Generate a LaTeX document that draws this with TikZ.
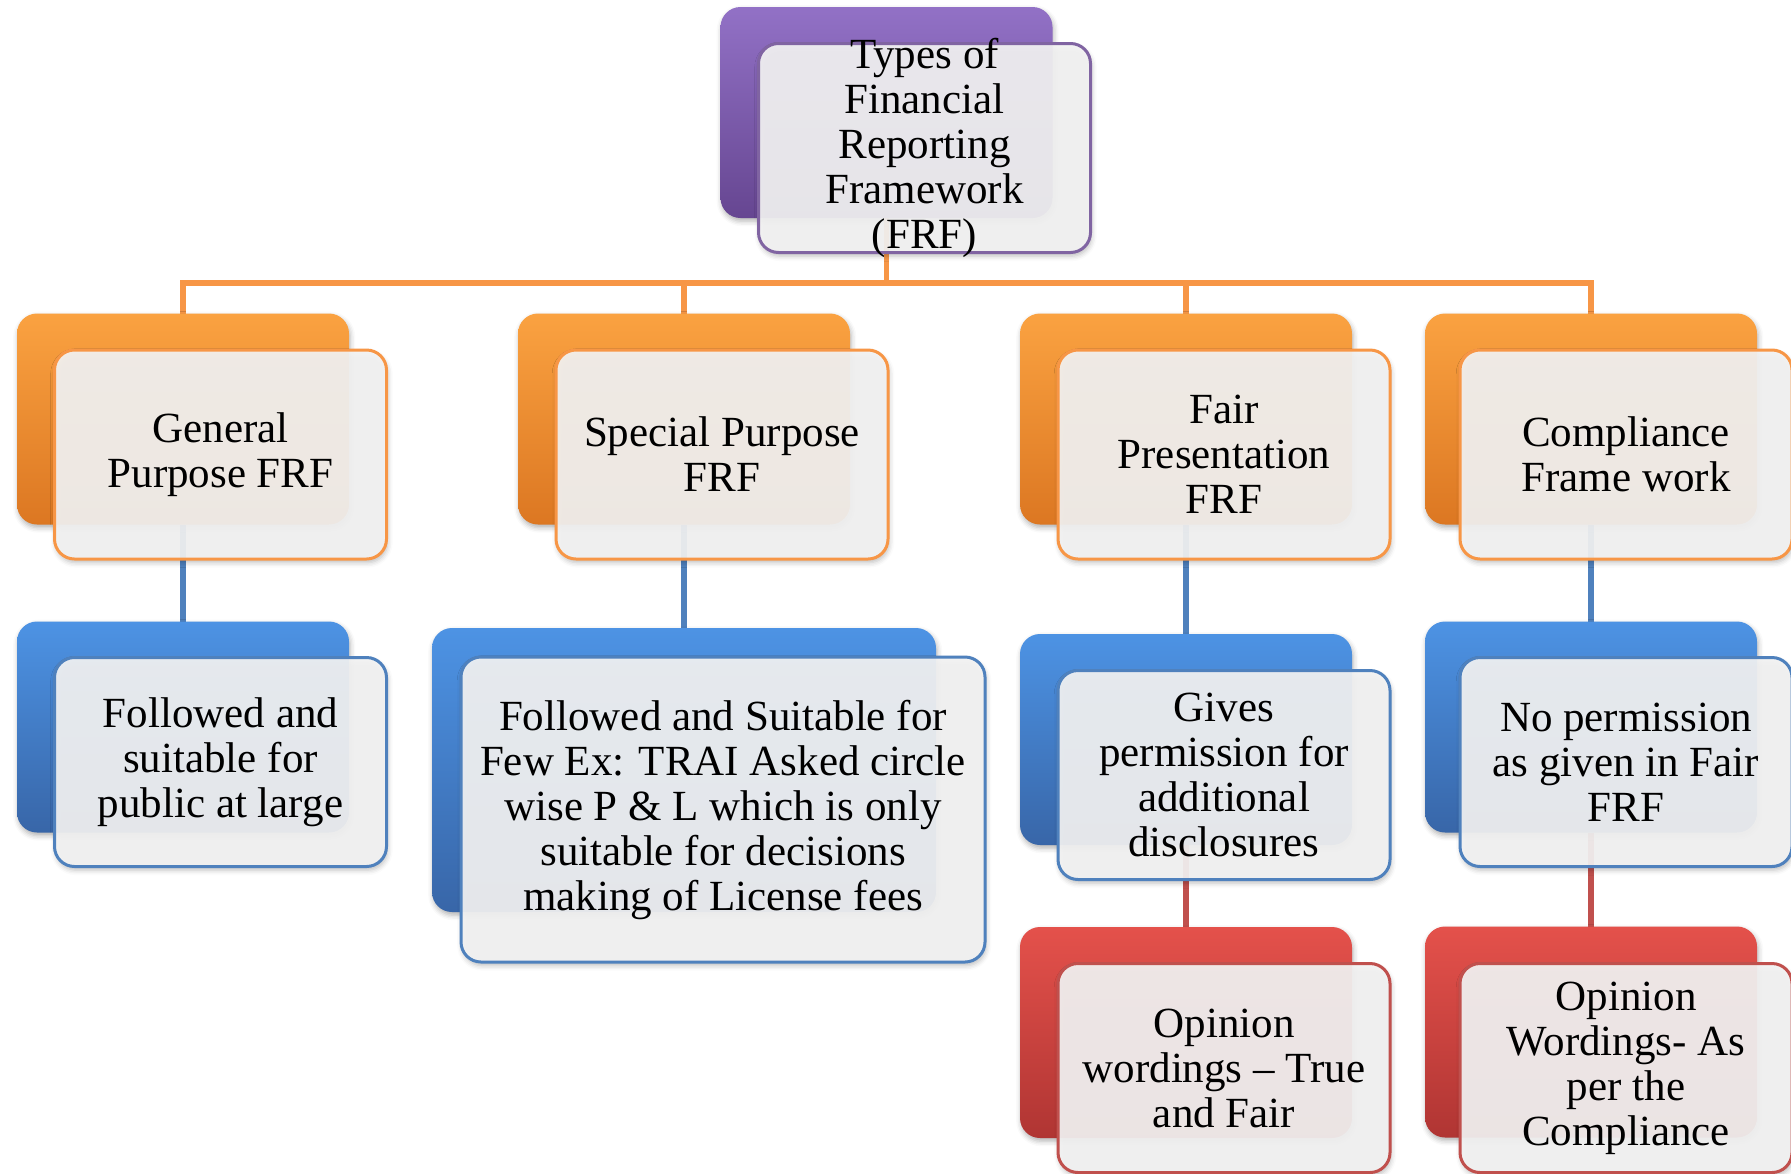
\documentclass[tikz,border=0pt]{standalone}
\usepackage{fontspec}
\setmainfont{Liberation Serif}
\usetikzlibrary{shadows.blur,backgrounds}

% palette
\definecolor{orgLine}{HTML}{F79646}
\definecolor{orgTop}{HTML}{FAA241}
\definecolor{orgMid}{HTML}{F7953A}
\definecolor{orgBot}{HTML}{DC7722}
\definecolor{bluLine}{HTML}{4F81BD}
\definecolor{bluTop}{HTML}{4D93E4}
\definecolor{bluMid}{HTML}{4585D6}
\definecolor{bluBot}{HTML}{3866A8}
\definecolor{redLine}{HTML}{C0504D}
\definecolor{redTop}{HTML}{E4514B}
\definecolor{redMid}{HTML}{D84642}
\definecolor{redBot}{HTML}{B03533}
\definecolor{purLine}{HTML}{8064A2}
\definecolor{purTop}{HTML}{9271C6}
\definecolor{purMid}{HTML}{8562B5}
\definecolor{purBot}{HTML}{664691}
\definecolor{paneFill}{HTML}{F4F4F4}

\tikzset{
  conn/.style={line width=2.7pt},
  backbox/.style={rounded corners=10pt, inner sep=0pt, outer sep=0pt,
    minimum width=166pt, minimum height=105.5pt,
    blur shadow={shadow xshift=0.6pt, shadow yshift=-1.6pt,
      shadow blur radius=2.5pt, shadow opacity=30}},
  orgback/.style={backbox, top color=orgTop, middle color=orgMid, bottom color=orgBot},
  bluback/.style={backbox, top color=bluTop, middle color=bluMid, bottom color=bluBot},
  redback/.style={backbox, top color=redTop, middle color=redMid, bottom color=redBot},
  purback/.style={backbox, top color=purTop, middle color=purMid, bottom color=purBot},
  txt/.style={align=center, text=black, inner sep=0pt,
    font=\fontsize{21.5}{22.5}\selectfont},
  pane/.style={rounded corners=10pt, draw=#1, line width=1.5pt,
    fill=paneFill, fill opacity=0.92, draw opacity=1, text opacity=1,
    inner sep=0pt, outer sep=0pt, minimum width=166pt, minimum height=104.5pt,
    blur shadow={shadow xshift=0.6pt, shadow yshift=-1.8pt,
      shadow blur radius=2.5pt, shadow opacity=28}},
}

\begin{document}
\begin{tikzpicture}[x=0.5pt, y=-0.5pt]
\path[use as bounding box] (0,0) rectangle (1791,1173);

% ---- root ----
\node[purback] (rootb) at (886.5,112.5) {};
\node[pane=purLine, label={[txt]center:{Types of\\Financial\\Reporting\\Framework\\(FRF)}}] (root) at (924.5,148) {};

% ---- first level ----
\node[orgback] (genb) at (183,419) {};
\node[pane=orgLine, label={[txt]center:{General\\Purpose FRF}}] (gen) at (220.5,454.5) {};

\node[orgback] (speb) at (684,419) {};
\node[pane=orgLine, label={[txt]center:{Special Purpose\\FRF}}] (spe) at (722,454.5) {};

\node[orgback] (faib) at (1186,419) {};
\node[pane=orgLine, label={[txt]center:{Fair\\Presentation\\FRF}}] (fai) at (1224,454.5) {};

\node[orgback] (comb) at (1591,419) {};
\node[pane=orgLine, label={[txt]center:{Compliance\\Frame work}}] (com) at (1626,454.5) {};

% ---- second level ----
\node[bluback] (genub) at (183,727) {};
\node[pane=bluLine, label={[txt]center:{Followed and\\suitable for\\public at large}}] (genu) at (220.5,762) {};

\node[bluback, minimum width=252pt, minimum height=142pt] (speub) at (684,770) {};
\node[pane=bluLine, minimum width=262pt, minimum height=152.5pt,
  label={[txt]center:{Followed and Suitable for\\Few Ex: TRAI Asked circle\\wise P \& L which is only\\suitable for decisions\\making of License fees}}] (speu) at (723,809.5) {};

\node[bluback] (faiub) at (1186,739.5) {};
\node[pane=bluLine, label={[txt]center:{Gives\\permission for\\additional\\disclosures}}] (faiu) at (1224,775) {};

\node[bluback] (comub) at (1591,727) {};
\node[pane=bluLine, label={[txt]center:{No permission\\as given in Fair\\FRF}}] (comu) at (1626,762) {};

% ---- third level ----
\node[redback] (faiob) at (1186,1032.5) {};
\node[pane=redLine, label={[txt]center:{Opinion\\wordings – True\\and Fair}}] (faio) at (1224,1068) {};

\node[redback] (comob) at (1591,1032) {};
\node[pane=redLine, label={[txt]center:{Opinion\\Wordings- As\\per the\\Compliance}}] (como) at (1626,1068) {};

% ---- connectors ----
\coordinate (bus) at (886.5,283);
\begin{scope}[on background layer]
  \foreach \c in {genb,speb,faib,comb}
    \draw[conn, orgLine] (rootb.south) -- (rootb.south |- bus) -| (\c.north);
  \draw[conn, bluLine] (genb.south) -- (genub.north);
  \draw[conn, bluLine] (speb.south) -- (speub.north);
  \draw[conn, bluLine] (faib.south) -- (faiub.north);
  \draw[conn, bluLine] (comb.south) -- (comub.north);
  \draw[conn, redLine] (faiub.south) -- (faiob.north);
  \draw[conn, redLine] (comub.south) -- (comob.north);
\end{scope}
\end{tikzpicture}
\end{document}
